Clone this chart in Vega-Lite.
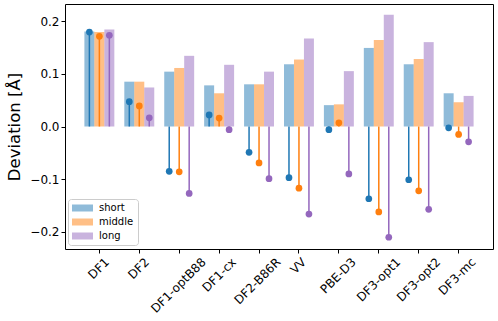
{
  "$schema": "https://vega.github.io/schema/vega-lite/v6.json",
  "autosize": "none",
  "width": 428,
  "height": 245,
  "padding": {"left": 65, "top": 4, "right": 5, "bottom": 72},
  "background": "white",
  "config": {
    "font": "DejaVu Sans",
    "view": {"stroke": "black", "strokeWidth": 1},
    "axis": {"grid": false, "domain": false, "tickColor": "black", "tickSize": 4, "labelColor": "black", "labelFontSize": 12, "labelFont": "DejaVu Sans", "titleFont": "DejaVu Sans", "titleColor": "black", "titleFontWeight": "normal"}
  },
  "data": {
    "values": [
      {"method": "DF1", "series": "short", "bar": 0.180, "dot": 0.179},
      {"method": "DF1", "series": "middle", "bar": 0.179, "dot": 0.171},
      {"method": "DF1", "series": "long", "bar": 0.184, "dot": 0.173},
      {"method": "DF2", "series": "short", "bar": 0.085, "dot": 0.047},
      {"method": "DF2", "series": "middle", "bar": 0.085, "dot": 0.039},
      {"method": "DF2", "series": "long", "bar": 0.074, "dot": 0.0165},
      {"method": "DF1-optB88", "series": "short", "bar": 0.104, "dot": -0.085},
      {"method": "DF1-optB88", "series": "middle", "bar": 0.111, "dot": -0.086},
      {"method": "DF1-optB88", "series": "long", "bar": 0.134, "dot": -0.127},
      {"method": "DF1-cx", "series": "short", "bar": 0.078, "dot": 0.022},
      {"method": "DF1-cx", "series": "middle", "bar": 0.063, "dot": 0.016},
      {"method": "DF1-cx", "series": "long", "bar": 0.117, "dot": -0.006},
      {"method": "DF2-B86R", "series": "short", "bar": 0.080, "dot": -0.049},
      {"method": "DF2-B86R", "series": "middle", "bar": 0.080, "dot": -0.069},
      {"method": "DF2-B86R", "series": "long", "bar": 0.104, "dot": -0.099},
      {"method": "VV", "series": "short", "bar": 0.118, "dot": -0.097},
      {"method": "VV", "series": "middle", "bar": 0.127, "dot": -0.117},
      {"method": "VV", "series": "long", "bar": 0.167, "dot": -0.166},
      {"method": "PBE-D3", "series": "short", "bar": 0.0405, "dot": -0.006},
      {"method": "PBE-D3", "series": "middle", "bar": 0.042, "dot": 0.007},
      {"method": "PBE-D3", "series": "long", "bar": 0.105, "dot": -0.090},
      {"method": "DF3-opt1", "series": "short", "bar": 0.149, "dot": -0.137},
      {"method": "DF3-opt1", "series": "middle", "bar": 0.164, "dot": -0.162},
      {"method": "DF3-opt1", "series": "long", "bar": 0.212, "dot": -0.210},
      {"method": "DF3-opt2", "series": "short", "bar": 0.118, "dot": -0.101},
      {"method": "DF3-opt2", "series": "middle", "bar": 0.128, "dot": -0.122},
      {"method": "DF3-opt2", "series": "long", "bar": 0.160, "dot": -0.157},
      {"method": "DF3-mc", "series": "short", "bar": 0.063, "dot": -0.0025},
      {"method": "DF3-mc", "series": "middle", "bar": 0.046, "dot": -0.015},
      {"method": "DF3-mc", "series": "long", "bar": 0.058, "dot": -0.029}
    ]
  },
  "encoding": {
    "x": {
      "field": "method", "type": "nominal", "sort": null, "title": null,
      "scale": {"paddingInner": 0.25, "paddingOuter": 0.486},
      "axis": {
        "labelAngle": -45, "labelAlign": "right", "labelBaseline": "top", "labelFontSize": 12, "labelPadding": 3,
        "labelOffset": {
          "condition": [
            {"test": "length(datum.label) >= 10", "value": 21},
            {"test": "length(datum.label) >= 8", "value": 16},
            {"test": "length(datum.label) >= 6", "value": 11.4},
            {"test": "length(datum.label) >= 3", "value": 4.2}
          ],
          "value": 1.6
        }
      }
    },
    "xOffset": {"field": "series", "type": "nominal", "sort": ["short", "middle", "long"], "scale": {"paddingInner": 0, "paddingOuter": 0}},
    "color": {
      "field": "series", "type": "nominal",
      "scale": {"domain": ["short", "middle", "long"], "range": ["#1f77b4", "#ff7f0e", "#9467bd"]}
    }
  },
  "layer": [
    {
      "mark": {"type": "bar", "opacity": 0.5},
      "encoding": {
        "y": {
          "field": "bar", "type": "quantitative",
          "scale": {"domain": [-0.2323, 0.2323], "nice": false, "zero": false},
          "axis": {"values": [-0.2, -0.1, 0, 0.1, 0.2], "format": ".1f", "title": "Deviation [Å]", "titleFontSize": 16.5, "titlePadding": 7},
          "title": "Deviation [Å]"
        },
        "color": {
          "field": "series", "type": "nominal",
          "scale": {"domain": ["short", "middle", "long"], "range": ["#1f77b4", "#ff7f0e", "#9467bd"]},
          "legend": {
            "title": null, "orient": "none", "legendX": 3, "legendY": 195,
            "symbolType": "M-2.1,-0.7H2.1V0.7H-2.1Z", "symbolSize": 100, "symbolOpacity": 0.5, "symbolStrokeWidth": 0,
            "symbolOffset": 5.5, "labelOffset": 11.5,
            "labelFontSize": 10, "labelColor": "black", "rowPadding": 4,
            "fillColor": "white", "strokeColor": "#cccccc", "cornerRadius": 3, "padding": 4
          }
        }
      }
    },
    {
      "mark": {"type": "rule", "strokeWidth": 1.5},
      "encoding": {
        "y": {"field": "dot", "type": "quantitative"},
        "y2": {"datum": 0},
        "color": {"field": "series", "type": "nominal", "legend": null}
      }
    },
    {
      "mark": {"type": "circle", "opacity": 1, "size": 45},
      "encoding": {
        "y": {"field": "dot", "type": "quantitative"},
        "color": {"field": "series", "type": "nominal", "legend": null}
      }
    }
  ]
}
